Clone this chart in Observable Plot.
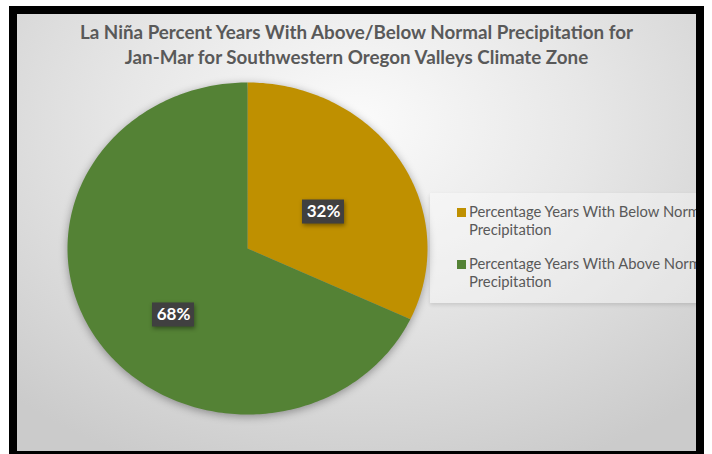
<!DOCTYPE html>
<html><head><meta charset="utf-8">
<script src="https://cdn.jsdelivr.net/npm/d3@7"></script>
<script src="https://cdn.jsdelivr.net/npm/@observablehq/plot@0.6"></script>
<style>
html,body{margin:0;padding:0;background:#fff;width:712px;height:454px;overflow:hidden;}
#frame{position:absolute;left:9px;top:6px;width:679px;height:437px;border:8px solid #000;
  background:radial-gradient(ellipse 75% 85% at 50% 25%, #fbfbfb 0%, #e7e7e7 45%, #cbcbcb 100%);overflow:hidden;}
#title{position:absolute;left:0;top:5px;width:679px;text-align:center;font-family:Lato,sans-serif;font-weight:700;
  font-size:18.8px;line-height:25px;color:#595959;z-index:2;}
#chart{position:absolute;left:0;top:0;z-index:1;}
#band{position:absolute;left:413px;top:179px;width:300px;height:110px;background:rgba(255,255,255,0.35);
  box-shadow:0 2px 4px rgba(0,0,0,0.12);z-index:1;}
#legend{position:absolute;left:0;top:0;z-index:3;font-family:Lato,sans-serif;font-size:14.8px;color:#595959;}
.line{position:absolute;white-space:nowrap;line-height:17px;}
.sw{position:absolute;width:9px;height:9px;}
g[aria-label=line]{filter:drop-shadow(0px 2px 4px rgba(0,0,0,0.35));}
g[aria-label=rect]{filter:drop-shadow(1px 2px 2px rgba(0,0,0,0.4));}
</style></head>
<body>
<div id="frame">
  <div id="title">La Niña Percent Years With Above/Below Normal Precipitation for<br>Jan-Mar for Southwestern Oregon Valleys Climate Zone</div>
  <div id="band"></div>
  <div id="chart"></div>
  <div id="legend"></div>
</div>
<script>
const categories = ["Percentage Years With Below Normal Precipitation", "Percentage Years With Above Normal Precipitation"];
const values = [32, 68];
const labels = ["32%", "68%"];
const palette = ["#BF9000", "#548235"];
const labelNudge = [[0, 8], [2, 22]]; // pixel nudges of the data labels

const arcs = d3.pie().sort(null).value(d => d)(values);
const pts = [];
arcs.forEach((a, i) => {
  const n = Math.max(2, Math.ceil((a.endAngle - a.startAngle) / (2 * Math.PI) * 360));
  pts.push({cat: categories[i], x: 0, y: 0});
  for (let k = 0; k <= n; k++) {
    const t = a.startAngle + (a.endAngle - a.startAngle) * k / n;
    pts.push({cat: categories[i], x: Math.sin(t), y: -Math.cos(t)});
  }
  pts.push({cat: categories[i], x: 0, y: 0});
});
const lbl = arcs.map((a, i) => {
  const m = (a.startAngle + a.endAngle) / 2;
  return {text: labels[i], x: 0.5 * Math.sin(m), y: -0.5 * Math.cos(m)};
});

const labelMarks = lbl.flatMap((d, i) => [
  Plot.rect([d], {x1: "x", x2: "x", y1: "y", y2: "y", dx: labelNudge[i][0], dy: labelNudge[i][1],
    insetLeft: -21, insetRight: -21, insetTop: -12, insetBottom: -12, fill: "#404040"}),
  Plot.text([d], {x: "x", y: "y", text: "text", dx: labelNudge[i][0], dy: labelNudge[i][1],
    fill: "white", fontWeight: "bold", fontSize: 17, fontFamily: "Lato, sans-serif"})
]);

const plot = Plot.plot({
  width: 679, height: 437, margin: 0,
  style: {background: "transparent", overflow: "visible"},
  x: {domain: [-1, 1], range: [50, 410], axis: null},
  y: {domain: [-1, 1], range: [68, 400], axis: null},
  color: {domain: categories, range: palette},
  marks: [
    Plot.line(pts, {x: "x", y: "y", z: "cat", fill: "cat", stroke: "none", curve: "linear"}),
    ...labelMarks
  ]
});
document.getElementById("chart").appendChild(plot);

const legend = d3.select("#legend");
const itemTops = [189, 241];
categories.forEach((c, i) => {
  const words = c.split(" ");
  const last = words.pop();
  legend.append("div").attr("class", "sw").style("background", palette[i])
    .style("left", "440px").style("top", (itemTops[i] + 5) + "px");
  legend.append("div").attr("class", "line").style("left", "452px").style("top", itemTops[i] + "px").text(words.join(" "));
  legend.append("div").attr("class", "line").style("left", "452px").style("top", (itemTops[i] + 18) + "px").text(last);
});
</script>
</body></html>
